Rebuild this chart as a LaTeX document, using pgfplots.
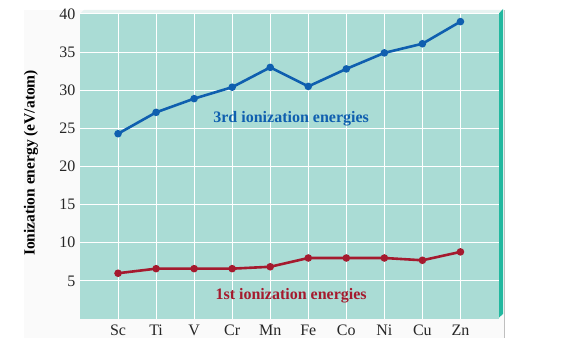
\documentclass[border=0pt]{standalone}
\usepackage{pgfplots}
\pgfplotsset{compat=1.18}
\usepackage{fontspec}
\setmainfont{Liberation Serif}
\definecolor{bgteal}{HTML}{AADCD5}
\definecolor{edgeteal}{HTML}{22B89F}
\definecolor{topstrip}{HTML}{E6F3F1}
\definecolor{thirdblue}{HTML}{0F5FAF}
\definecolor{firstred}{HTML}{A51A2E}
\begin{document}
\begin{tikzpicture}[x=1pt,y=1pt]
\path[use as bounding box] (0,0) rectangle (566,355);
\fill[black!2] (24,17) rectangle (504,345);
\draw[black!25,line width=0.8pt] (504.5,17) -- (504.5,345);
% 3D top strip and right edge
\fill[topstrip] (80,341) -- (84,345) -- (503,345) -- (499,341) -- cycle;
\fill[edgeteal] (498.5,37) -- (498.5,341) -- (503,346) -- (503,41) -- cycle;
\node[rotate=90, font=\fontsize{15.5}{17}\selectfont\bfseries] at (31,192) {Ionization energy (eV/atom)};
\begin{axis}[
  at={(80pt,36pt)}, anchor=south west,
  scale only axis, width=418.5pt, height=305pt,
  xmin=-1, xmax=10, ymin=0, ymax=40,
  axis background/.style={fill=bgteal},
  axis line style={draw=none},
  xtick={0,...,9},
  xticklabels={Sc,Ti,V,Cr,Mn,Fe,Co,Ni,Cu,Zn},
  ytick={5,10,...,40},
  grid=major,
  major grid style={white, line width=1pt},
  tick style={draw=none},
  /pgf/number format/assume math mode=true,
  ticklabel style={font=\fontsize{16}{18}\selectfont, text=black!85},
  xticklabel style={yshift=-2pt},
  yticklabel style={xshift=-1pt},
  clip=false,
]
\addplot[thirdblue, line width=2.6pt, mark=*, mark size=2.4pt] coordinates {
(0,24.3) (1,27.1) (2,28.9) (3,30.4) (4,33.0) (5,30.5) (6,32.8) (7,34.9) (8,36.1) (9,39.0)};
\addplot[firstred, line width=2.6pt, mark=*, mark size=2.4pt] coordinates {
(0,6.0) (1,6.6) (2,6.6) (3,6.6) (4,6.85) (5,8.0) (6,8.0) (7,8.0) (8,7.7) (9,8.8)};
\node[thirdblue, font=\fontsize{16}{18}\selectfont\bfseries] at (axis cs:4.55,26.3) {3rd ionization energies};
\node[firstred, font=\fontsize{16}{18}\selectfont\bfseries] at (axis cs:4.55,3.0) {1st ionization energies};
\end{axis}
\end{tikzpicture}
\end{document}
